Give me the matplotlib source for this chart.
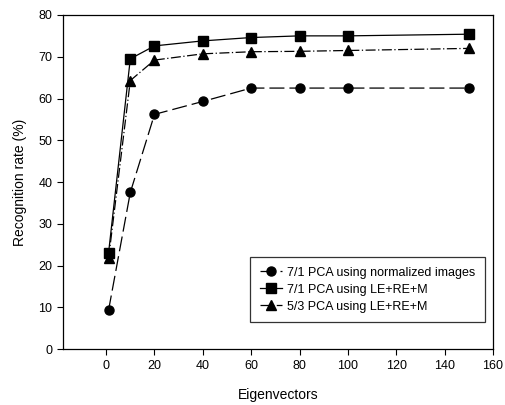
import matplotlib
matplotlib.use("Agg")
import matplotlib.pyplot as plt

plt.rcParams['font.family'] = ['Liberation Sans', 'DejaVu Sans']

eigenvectors = [1, 10, 20, 40, 60, 80, 100, 150]
pca71_normalized = [9.3, 37.5, 56.2, 59.3, 62.5, 62.5, 62.5, 62.5]
pca71_lerem = [23.0, 69.5, 72.6, 73.8, 74.6, 75.0, 75.0, 75.4]
pca53_lerem = [21.7, 64.3, 69.2, 70.7, 71.2, 71.3, 71.5, 72.0]
labels = ["7/1 PCA using normalized images", "7/1 PCA using LE+RE+M", "5/3 PCA using LE+RE+M"]

fig = plt.figure(figsize=(5.05, 4.05), dpi=100)
ax = fig.add_axes([0.124, 0.138, 0.852, 0.825])

ax.plot(eigenvectors, pca71_normalized, color='black', lw=0.9, ls=(0, (12, 4)),
        marker='o', ms=6.5, label=labels[0])
ax.plot(eigenvectors, pca71_lerem, color='black', lw=0.9, ls='-',
        marker='s', ms=6.5, label=labels[1])
ax.plot(eigenvectors, pca53_lerem, color='black', lw=0.9, ls=(0, (8, 2, 1, 2)),
        marker='^', ms=6.5, label=labels[2])

ax.set_xlim(-18, 160)
ax.set_ylim(0, 80)
ax.set_xticks(range(0, 161, 20))
ax.set_yticks(range(0, 81, 10))
ax.tick_params(direction='out', length=4, width=0.8, labelsize=9, colors='black')
for s in ax.spines.values():
    s.set_linewidth(0.9)
ax.set_xlabel("Eigenvectors", fontsize=10, labelpad=12)
ax.set_ylabel("Recognition rate (%)", fontsize=10, labelpad=8)

leg = ax.legend(loc='lower right', bbox_to_anchor=(0.99, 0.07), fontsize=9,
                frameon=True, fancybox=False, edgecolor='black', handlelength=1.8,
                borderpad=0.75, labelspacing=0.4, handletextpad=0.4, borderaxespad=0.3)
leg.get_frame().set_linewidth(0.9)

fig.savefig("out.png", dpi=100)
